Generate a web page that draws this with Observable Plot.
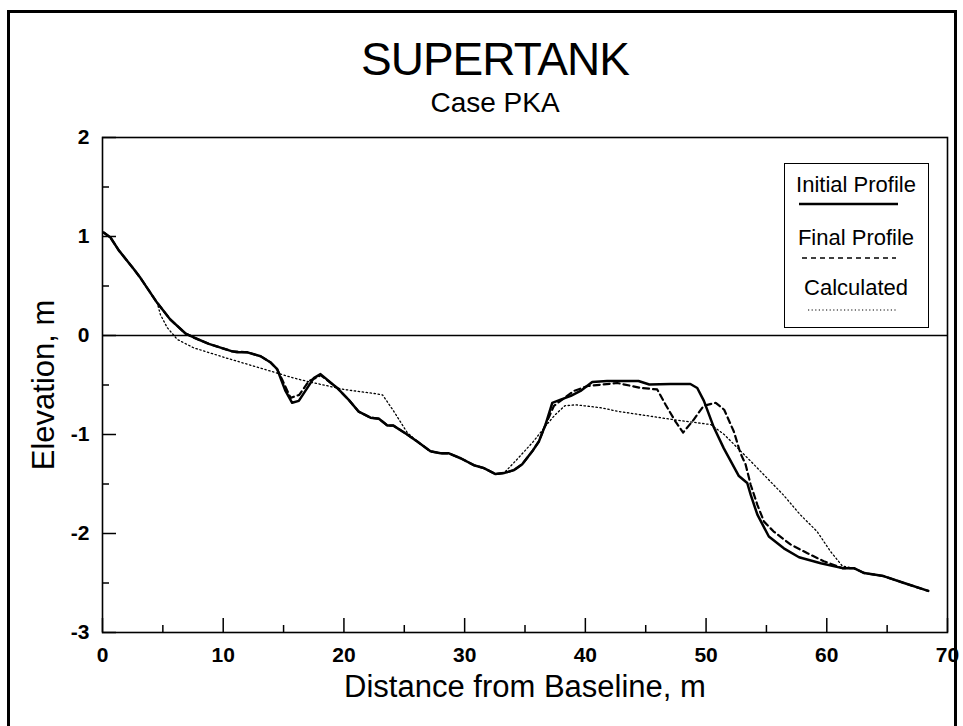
<!DOCTYPE html>
<html>
<head>
<meta charset="utf-8">
<script src="https://cdn.jsdelivr.net/npm/d3@7"></script>
<script src="https://cdn.jsdelivr.net/npm/@observablehq/plot@0.6"></script>
<style>
  body { margin: 0; background: #fff; }
  #wrap { position: relative; width: 963px; height: 726px; overflow: hidden; font-family: "Liberation Sans", Arial, sans-serif; color: #000; background: #fff; }
  #chart { position: absolute; left: 0; top: 0; }
  .ttl { position: absolute; left: 0; width: 990px; text-align: center; line-height: 1; white-space: nowrap; }
  #title { top: 36px; font-size: 46px; letter-spacing: -1px; }
  #subtitle { top: 89px; font-size: 28px; }
  #border { position: absolute; left: 7px; top: 10px; width: 950px; height: 740px; border: 3px solid #000; box-sizing: border-box; }
  #legend { position: absolute; left: 784px; top: 163px; width: 145px; height: 165px; border: 1.5px solid #000; box-sizing: border-box; background: #fff; }
  #legend svg { position: absolute; left: 0; top: 0; }
</style>
</head>
<body>
<div id="wrap">
  <div id="border"></div>
  <div id="chart"></div>
  <div class="ttl" id="title">SUPERTANK</div>
  <div class="ttl" id="subtitle">Case PKA</div>
  <div id="legend"></div>
</div>
<script>
// ---- data ----
const initialX = [0.1,0.66,1.35,2.6,3.15,4.53,5.63,6.88,7.56,8.81,10.75,11.16,12.0,13.1,13.9,14.47,14.75,15.16,15.71,16.26,17.5,18.06,19.44,20.4,21.23,22.2,22.9,23.6,24.1,25.24,26.07,27.17,28.0,28.7,29.66,30.77,31.6,32.56,33.25,34.08,34.77,35.6,36.15,36.7,37.26,37.9,38.8,39.6,40.57,41.8,44.4,45.3,47.06,48.7,49.27,49.82,50.65,51.47,52.72,53.41,53.7,54.25,55.2,56.44,57.7,59.5,61.3,62.25,63.1,64.7,66.4,68.4];
const initialY = [1.04,0.99,0.86,0.67,0.58,0.33,0.16,0.02,-0.02,-0.085,-0.16,-0.17,-0.17,-0.21,-0.27,-0.34,-0.43,-0.56,-0.68,-0.66,-0.43,-0.39,-0.53,-0.65,-0.77,-0.83,-0.84,-0.91,-0.91,-1.0,-1.07,-1.17,-1.19,-1.19,-1.24,-1.31,-1.34,-1.40,-1.39,-1.36,-1.30,-1.17,-1.07,-0.90,-0.68,-0.65,-0.61,-0.56,-0.47,-0.46,-0.46,-0.495,-0.49,-0.49,-0.53,-0.66,-0.93,-1.14,-1.42,-1.49,-1.61,-1.81,-2.03,-2.15,-2.24,-2.30,-2.35,-2.35,-2.40,-2.43,-2.50,-2.58];

const finalX = [0.1,0.66,1.35,2.6,3.15,4.53,5.63,6.88,7.56,8.81,10.75,12.0,13.1,13.9,14.47,14.9,15.58,16.3,17.1,17.8,18.06,19.44,20.4,21.23,22.2,22.9,23.6,24.1,25.24,26.07,27.17,28.0,28.7,29.66,30.77,31.6,32.56,33.25,34.08,34.77,35.6,36.15,36.7,37.4,39.05,40.2,42.65,44.6,45.95,46.65,47.47,48.1,48.98,49.8,50.8,51.5,52.3,52.85,53.27,53.7,54.25,54.8,55.6,56.99,58.4,59.75,61.3,62.25,63.1,64.7,66.4,68.4];
const finalY = [1.04,0.99,0.86,0.67,0.58,0.33,0.16,0.02,-0.02,-0.085,-0.16,-0.17,-0.21,-0.27,-0.34,-0.45,-0.63,-0.60,-0.46,-0.42,-0.40,-0.53,-0.65,-0.77,-0.83,-0.84,-0.91,-0.91,-1.0,-1.07,-1.17,-1.19,-1.19,-1.24,-1.31,-1.34,-1.40,-1.39,-1.36,-1.30,-1.17,-1.07,-0.90,-0.71,-0.56,-0.51,-0.48,-0.53,-0.545,-0.70,-0.87,-0.98,-0.85,-0.71,-0.68,-0.75,-0.97,-1.19,-1.30,-1.51,-1.71,-1.88,-1.98,-2.11,-2.20,-2.28,-2.35,-2.35,-2.40,-2.43,-2.50,-2.58];

const calcX = [0.1,0.66,1.35,2.6,3.15,4.53,4.8,5.36,6.2,7.56,10.33,13.1,15.85,17.2,20.0,22.76,23.2,24.1,25.24,26.07,27.17,28.0,28.7,29.66,30.77,31.6,32.56,33.25,34.35,35.7,36.8,37.5,38.3,39.2,41.3,42.65,47.3,50.4,51.5,53.7,56.4,57.8,59.2,60.3,61.3,62.25,63.1,64.7,66.4,68.4];
const calcY = [1.04,0.99,0.86,0.67,0.58,0.33,0.21,0.08,-0.04,-0.125,-0.23,-0.33,-0.43,-0.47,-0.545,-0.59,-0.60,-0.76,-0.98,-1.07,-1.17,-1.19,-1.19,-1.24,-1.31,-1.34,-1.40,-1.39,-1.25,-1.07,-0.90,-0.80,-0.71,-0.70,-0.73,-0.765,-0.85,-0.90,-1.0,-1.27,-1.61,-1.81,-1.98,-2.18,-2.33,-2.35,-2.40,-2.43,-2.50,-2.58];

const xMajorTicks = [0,10,20,30,40,50,60,70];
const xMinorTicks = [5,15,25,35,45,55,65];
const yMajorTicks = [-3,-2,-1,0,1,2];
const yMinorTicks = [-2.5,-1.5,-0.5,0.5,1.5];
const seriesNames = ["Initial Profile","Final Profile","Calculated"];
const xLabel = "Distance from Baseline, m";
const yLabel = "Elevation, m";

// ---- tables ----
const initial = initialX.map((x,i)=>({x, y: initialY[i]}));
const finalP = finalX.map((x,i)=>({x, y: finalY[i]}));
const calc = calcX.map((x,i)=>({x, y: calcY[i]}));

const W = 963, H = 726, mL = 102, mR = 16, mT = 137, mB = 94;
const fw = W - mL - mR, fh = H - mT - mB;
const FONT = "'Liberation Sans', Arial, sans-serif";

const chart = Plot.plot({
  width: W, height: H,
  marginLeft: mL, marginRight: mR, marginTop: mT, marginBottom: mB,
  x: {domain: [0,70], axis: null},
  y: {domain: [-3,2], axis: null},
  style: {fontFamily: FONT, color: "#000", background: "transparent"},
  marks: [
    Plot.ruleY([0], {stroke: "#000", strokeWidth: 1.4}),
    Plot.line(calc, {x: "x", y: "y", stroke: "#000", strokeWidth: 1.3, strokeDasharray: "1.4,2.6"}),
    Plot.line(finalP, {x: "x", y: "y", stroke: "#000", strokeWidth: 2.2, strokeDasharray: "6,4"}),
    Plot.line(initial, {x: "x", y: "y", stroke: "#000", strokeWidth: 2.5}),
    Plot.tickX(xMajorTicks, {x: d => d, stroke: "#000", strokeWidth: 1.5, insetTop: fh - 14}),
    Plot.tickX(xMinorTicks, {x: d => d, stroke: "#000", strokeWidth: 1.5, insetTop: fh - 7}),
    Plot.tickY(yMajorTicks, {y: d => d, stroke: "#000", strokeWidth: 1.5, insetRight: fw - 14}),
    Plot.tickY(yMinorTicks, {y: d => d, stroke: "#000", strokeWidth: 1.5, insetRight: fw - 7}),
    Plot.text(xMajorTicks, {x: d => d, text: d => String(d), frameAnchor: "bottom", lineAnchor: "middle", textAnchor: "middle", dy: 23, fontSize: 21, fontWeight: "bold", fill: "#000"}),
    Plot.text(yMajorTicks, {y: d => d, text: d => String(d), frameAnchor: "left", lineAnchor: "middle", textAnchor: "end", dx: -13, fontSize: 21, fontWeight: "bold", fill: "#000"}),
    Plot.frame({stroke: "#000", strokeWidth: 1.6}),
    Plot.text([xLabel], {frameAnchor: "bottom", lineAnchor: "middle", textAnchor: "middle", dy: 55, fontSize: 31, fill: "#000"}),
    Plot.text([yLabel], {frameAnchor: "left", lineAnchor: "middle", textAnchor: "middle", dx: -58, rotate: -90, fontSize: 31, fill: "#000"})
  ]
});
document.getElementById("chart").appendChild(chart);

// ---- legend ----
const lg = d3.select("#legend").append("svg").attr("width", 145).attr("height", 165)
  .style("font-family", FONT);
const legendRows = [
  {name: seriesNames[0], ty: 20, ly: 40, x1: 14, x2: 113, w: 2.4, dash: null},
  {name: seriesNames[1], ty: 73, ly: 94, x1: 17, x2: 111, w: 1.6, dash: "5,4"},
  {name: seriesNames[2], ty: 123, ly: 146, x1: 23, x2: 113, w: 1.1, dash: "1.2,2.4"}
];
legendRows.forEach(r => {
  lg.append("text").attr("x", 71).attr("y", r.ty).attr("text-anchor", "middle")
    .attr("dominant-baseline", "central").attr("font-size", 22).attr("fill", "#000").text(r.name);
  lg.append("line").attr("x1", r.x1).attr("x2", r.x2).attr("y1", r.ly).attr("y2", r.ly)
    .attr("stroke", "#000").attr("stroke-width", r.w).attr("stroke-dasharray", r.dash);
});
</script>
</body>
</html>
